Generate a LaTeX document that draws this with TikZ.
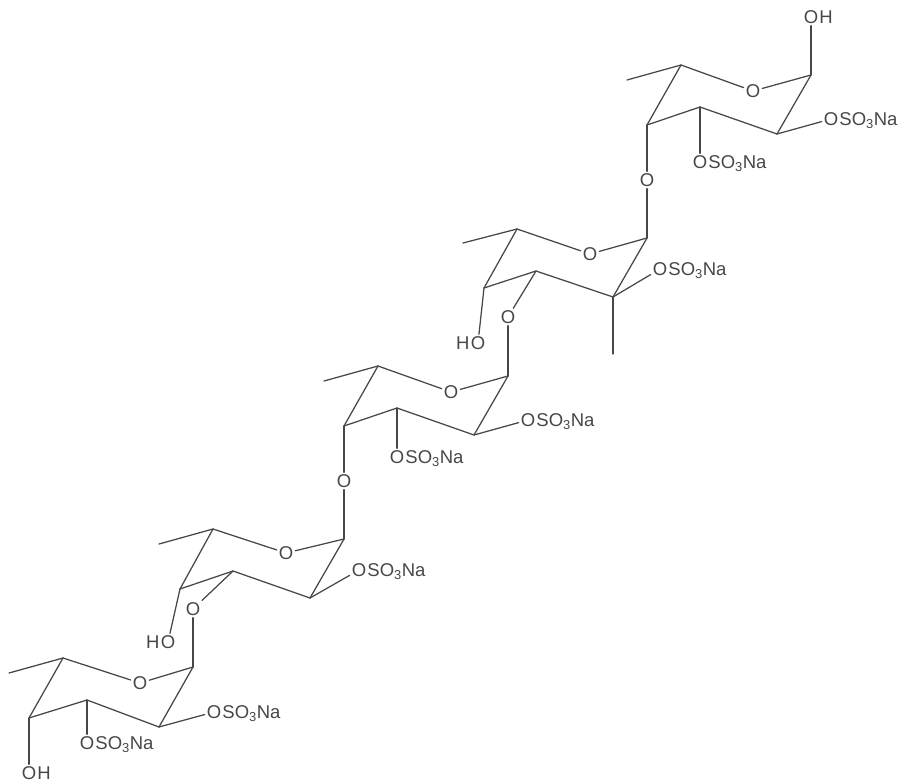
\documentclass[tikz,border=0pt]{standalone}
\usepackage{fontspec}
\setmainfont{Liberation Sans}

\begin{document}
\begin{tikzpicture}[x=1pt,y=-1pt,line width=1.25pt,line cap=round,color=black!72,
                    every node/.style={font=\fontsize{18.5}{20}\selectfont,text=black!72},
                    atom/.style={inner sep=1.5pt},
                    tailright/.style={inner sep=0pt,anchor=base west,xshift=-1.5pt},
                    tailleft/.style={inner sep=0pt,anchor=base east,xshift=1.5pt}]
    \useasboundingbox (0,0) rectangle (899,781);

    % top ring
    \coordinate (Ma) at (627,80);
    \coordinate (C5a) at (681,65);
    \node[atom] (Oa) at (753,91) {O};
    \coordinate (C1a) at (811,75);
    \coordinate (C2a) at (777,134);
    \coordinate (C3a) at (700,107);
    \coordinate (C4a) at (647,125);
    \node[atom] (OHa) at (811,17) {O};
    \node[tailright] (Ha) at (OHa.base east) {H};
    \node[atom] (S2a) at (831,119) {O};
    \node[tailright] (Na2a) at (S2a.base east) {SO\textsubscript{3}Na};
    \node[atom] (S3a) at (700,162) {O};
    \node[tailright] (Na3a) at (S3a.base east) {SO\textsubscript{3}Na};
    \node[atom] (Oab) at (647,180) {O};

    % second ring
    \coordinate (Mb) at (463,243);
    \coordinate (C5b) at (517,229);
    \node[atom] (Ob) at (590,254) {O};
    \coordinate (C1b) at (647,238);
    \coordinate (C2b) at (613,297);
    \coordinate (C3b) at (536,271);
    \coordinate (C4b) at (484,288);
    \coordinate (Mb2) at (613,354);
    \node[atom] (S2b) at (660,269) {O};
    \node[tailright] (Na2b) at (S2b.base east) {SO\textsubscript{3}Na};
    \node[atom] (HOb) at (478,343) {O};
    \node[tailleft] (Hb) at (HOb.base west) {H};
    \node[atom] (Obc) at (508,317) {O};

    % third ring
    \coordinate (Mc) at (324,381);
    \coordinate (C5c) at (378,366);
    \node[atom] (Oc) at (451,392) {O};
    \coordinate (C1c) at (508,376);
    \coordinate (C2c) at (474,435);
    \coordinate (C3c) at (397,408);
    \coordinate (C4c) at (344,426);
    \node[atom] (S2c) at (528,420) {O};
    \node[tailright] (Na2c) at (S2c.base east) {SO\textsubscript{3}Na};
    \node[atom] (S3c) at (397,457) {O};
    \node[tailright] (Na3c) at (S3c.base east) {SO\textsubscript{3}Na};
    \node[atom] (Ocd) at (344,481) {O};

    % fourth ring
    \coordinate (Md) at (159,544);
    \coordinate (C5d) at (213,529);
    \node[atom] (Od) at (286,553) {O};
    \coordinate (C1d) at (344,539);
    \coordinate (C2d) at (310,598);
    \coordinate (C3d) at (233,571);
    \coordinate (C4d) at (180,589);
    \node[atom] (S2d) at (359,570) {O};
    \node[tailright] (Na2d) at (S2d.base east) {SO\textsubscript{3}Na};
    \node[atom] (HOd) at (168,642) {O};
    \node[tailleft] (Hd) at (HOd.base west) {H};
    \node[atom] (Ode) at (193,609) {O};

    % last ring
    \coordinate (Me) at (9,673);
    \coordinate (C5e) at (63,658);
    \node[atom] (Oe) at (140,683) {O};
    \coordinate (C1e) at (193,667);
    \coordinate (C2e) at (159,727);
    \coordinate (C3e) at (87,700);
    \coordinate (C4e) at (29,718);
    \node[atom] (S2e) at (214,712) {O};
    \node[tailright] (Na2e) at (S2e.base east) {SO\textsubscript{3}Na};
    \node[atom] (S3e) at (87,743) {O};
    \node[tailright] (Na3e) at (S3e.base east) {SO\textsubscript{3}Na};
    \node[atom] (OHe) at (29,773) {O};
    \node[tailright] (He) at (OHe.base east) {H};

    \path (Ma) edge (C5a) (C5a) edge (Oa) (Oa) edge (C1a) (C1a) edge (C2a)
          (C2a) edge (C3a) (C3a) edge (C4a) (C4a) edge (C5a)
          (C1a) edge (OHa) (C2a) edge (S2a) (C3a) edge (S3a)
          (C4a) edge (Oab) (Oab) edge (C1b);

    \path (Mb) edge (C5b) (C5b) edge (Ob) (Ob) edge (C1b) (C1b) edge (C2b)
          (C2b) edge (C3b) (C3b) edge (C4b) (C4b) edge (C5b)
          (C2b) edge (Mb2) (C2b) edge (S2b) (C4b) edge (HOb)
          (C3b) edge (Obc) (Obc) edge (C1c);

    \path (Mc) edge (C5c) (C5c) edge (Oc) (Oc) edge (C1c) (C1c) edge (C2c)
          (C2c) edge (C3c) (C3c) edge (C4c) (C4c) edge (C5c)
          (C2c) edge (S2c) (C3c) edge (S3c)
          (C4c) edge (Ocd) (Ocd) edge (C1d);

    \path (Md) edge (C5d) (C5d) edge (Od) (Od) edge (C1d) (C1d) edge (C2d)
          (C2d) edge (C3d) (C3d) edge (C4d) (C4d) edge (C5d)
          (C2d) edge (S2d) (C4d) edge (HOd)
          (C3d) edge (Ode) (Ode) edge (C1e);

    \path (Me) edge (C5e) (C5e) edge (Oe) (Oe) edge (C1e) (C1e) edge (C2e)
          (C2e) edge (C3e) (C3e) edge (C4e) (C4e) edge (C5e)
          (C2e) edge (S2e) (C3e) edge (S3e) (C4e) edge (OHe);
\end{tikzpicture}
\end{document}
